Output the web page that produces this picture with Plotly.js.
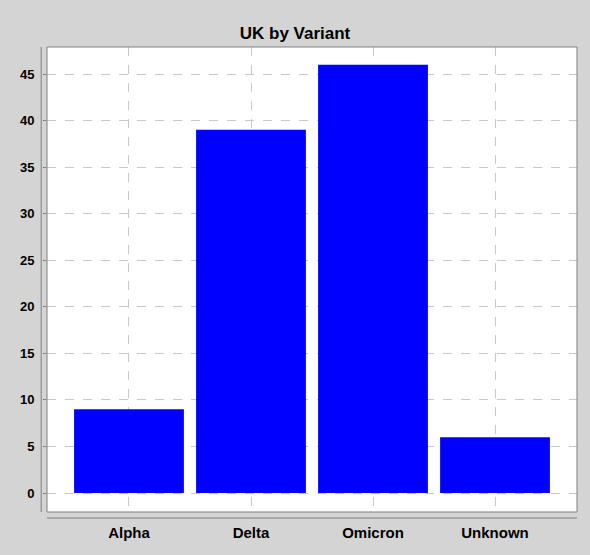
<!DOCTYPE html>
<html>
<head>
<meta charset="utf-8">
<script src="https://cdn.plot.ly/plotly-3.0.1.min.js"></script>
<style>
  html, body { margin: 0; padding: 0; background: #d4d4d4; }
  #plot { width: 590px; height: 555px; }
</style>
</head>
<body>
<div id="plot"></div>
<script>
  var variants = ["Alpha", "Delta", "Omicron", "Unknown"];
  var counts = [9, 39, 46, 6];
  var yTicks = [0, 5, 10, 15, 20, 25, 30, 35, 40, 45];

  var trace = {
    x: variants,
    y: counts,
    type: "bar",
    marker: { color: "#0000ff" },
    hoverinfo: "x+y"
  };

  var axisLine = { color: "#808080", width: 1 };

  var layout = {
    width: 590,
    height: 555,
    paper_bgcolor: "#d4d4d4",
    plot_bgcolor: "#ffffff",
    bargap: 0.1,
    showlegend: false,
    font: { family: "Liberation Sans, Arial, sans-serif", color: "#000000" },
    title: {
      text: "<b>UK by Variant</b>",
      font: { size: 17 },
      x: 0.5, xanchor: "center",
      y: 0.94, yanchor: "middle"
    },
    margin: { l: 47, r: 13, t: 47, b: 43 },
    xaxis: {
      range: [-0.672, 3.672],
      showgrid: true,
      gridcolor: "#c8c8c8",
      griddash: "dash",
      zeroline: false,
      showline: false,
      ticks: "",
      tickfont: { size: 15, color: "#000000", weight: "bold" },
      ticklabelstandoff: 10
    },
    yaxis: {
      range: [-2.04, 47.9],
      tickmode: "array",
      tickvals: yTicks,
      showgrid: true,
      gridcolor: "#c8c8c8",
      griddash: "dash",
      zeroline: false,
      showline: false,
      ticks: "outside",
      ticklen: 3,
      tickcolor: "#808080",
      tickfont: { size: 13, color: "#000000", weight: "bold" },
      ticklabelstandoff: 6
    },
    shapes: [
      { type: "rect", xref: "paper", yref: "paper", x0: 0, x1: 1, y0: 0, y1: 1,
        line: { color: "#808080", width: 1 } },
      { type: "line", xref: "paper", yref: "paper", x0: -0.011, x1: -0.011, y0: 0, y1: 1,
        line: axisLine },
      { type: "line", xref: "paper", yref: "paper", x0: 0, x1: 1, y0: -0.013, y1: -0.013,
        line: axisLine }
    ]
  };

  Plotly.newPlot("plot", [trace], layout, { displayModeBar: false, staticPlot: true });
</script>
</body>
</html>
